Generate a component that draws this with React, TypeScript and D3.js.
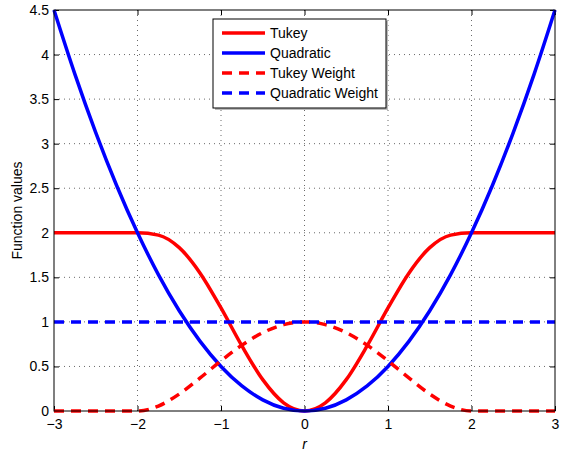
import React, { useEffect, useRef } from 'react'
import * as d3 from 'd3'

// r values, step 0.25 from -3 to 3
const rValues = [-3, -2.75, -2.5, -2.25, -2, -1.75, -1.5, -1.25, -1, -0.75, -0.5, -0.25, 0,
    0.25, 0.5, 0.75, 1, 1.25, 1.5, 1.75, 2, 2.25, 2.5, 2.75, 3]

const tukey = [2, 2, 2, 2, 2, 1.974, 1.833, 1.547, 1.156, 0.731, 0.352, 0.092, 0,
    0.092, 0.352, 0.731, 1.156, 1.547, 1.833, 1.974, 2, 2, 2, 2, 2]

const quadratic = [4.5, 3.781, 3.125, 2.531, 2, 1.531, 1.125, 0.781, 0.5, 0.281, 0.125, 0.031, 0,
    0.031, 0.125, 0.281, 0.5, 0.781, 1.125, 1.531, 2, 2.531, 3.125, 3.781, 4.5]

const tukeyWeight = [0, 0, 0, 0, 0, 0.055, 0.191, 0.371, 0.563, 0.739, 0.879, 0.969, 1,
    0.969, 0.879, 0.739, 0.563, 0.371, 0.191, 0.055, 0, 0, 0, 0, 0]

const quadraticWeight = [1, 1, 1, 1, 1, 1, 1, 1, 1, 1, 1, 1, 1,
    1, 1, 1, 1, 1, 1, 1, 1, 1, 1, 1, 1]

const xTicks = [-3, -2, -1, 0, 1, 2, 3]
const yTicks = [0, 0.5, 1, 1.5, 2, 2.5, 3, 3.5, 4, 4.5]

const series = [
    { name: 'Tukey', values: tukey, color: '#ff0000', dash: null },
    { name: 'Quadratic', values: quadratic, color: '#0000ff', dash: null },
    { name: 'Tukey Weight', values: tukeyWeight, color: '#ff0000', dash: '10,7' },
    { name: 'Quadratic Weight', values: quadraticWeight, color: '#0000ff', dash: '10,7' },
]

export default function App() {
    const ref = useRef<SVGSVGElement>(null)

    useEffect(() => {
        const svg = d3.select(ref.current)
        svg.selectAll('*').remove()

        const margin = { top: 10, left: 54, right: 9, bottom: 41 }
        const width = 564
        const height = 452
        const plotW = width - margin.left - margin.right
        const plotH = height - margin.top - margin.bottom
        const font = 'Liberation Sans, Arial, Helvetica, sans-serif'

        const x = d3.scaleLinear().domain([-3, 3]).range([0, plotW])
        const y = d3.scaleLinear().domain([0, 4.5]).range([plotH, 0])

        const g = svg.append('g').attr('transform', `translate(${margin.left},${margin.top})`)

        g.append('rect').attr('width', plotW).attr('height', plotH).attr('fill', 'white')

        // dotted grid
        g.selectAll('.vgrid').data(xTicks.slice(1, -1)).enter().append('line')
            .attr('x1', d => x(d)).attr('x2', d => x(d))
            .attr('y1', 0).attr('y2', plotH)
            .attr('stroke', '#444').attr('stroke-width', 0.8).attr('stroke-dasharray', '1,4')
        g.selectAll('.hgrid').data(yTicks.slice(1, -1)).enter().append('line')
            .attr('y1', d => y(d)).attr('y2', d => y(d))
            .attr('x1', 0).attr('x2', plotW)
            .attr('stroke', '#444').attr('stroke-width', 0.8).attr('stroke-dasharray', '1,4')

        // axes with inward ticks
        const tickLen = 5
        const xb = g.append('g').attr('transform', `translate(0,${plotH})`)
            .call(d3.axisBottom(x).tickValues(xTicks).tickSizeInner(-tickLen).tickSizeOuter(0)
                .tickFormat(d => (+d < 0 ? '\u2212' + Math.abs(+d) : String(d))))
        const xt = g.append('g')
            .call(d3.axisTop(x).tickValues(xTicks).tickSizeInner(-tickLen).tickSizeOuter(0).tickFormat(() => ''))
        const yl = g.append('g')
            .call(d3.axisLeft(y).tickValues(yTicks).tickSizeInner(-tickLen).tickSizeOuter(0)
                .tickFormat(d => String(d)))
        const yr = g.append('g').attr('transform', `translate(${plotW},0)`)
            .call(d3.axisRight(y).tickValues(yTicks).tickSizeInner(-tickLen).tickSizeOuter(0).tickFormat(() => ''))

        for (const a of [xb, xt, yl, yr]) {
            a.select('.domain').remove()
            a.selectAll('line').attr('stroke', 'black')
            a.selectAll('text').attr('font-family', font).attr('font-size', 14).attr('fill', 'black')
        }
        xb.selectAll('text').attr('dy', '1.1em')
        yl.selectAll('text').attr('x', -5)

        const lineGen = d3.line<number>()
            .x((d, i) => x(rValues[i]))
            .y(d => y(d))
            .curve(d3.curveMonotoneX)

        series.forEach(s => {
            g.append('path')
                .datum(s.values)
                .attr('fill', 'none')
                .attr('stroke', s.color)
                .attr('stroke-width', 3.5)
                .attr('stroke-dasharray', s.dash)
                .attr('d', lineGen)
        })

        // frame
        g.append('rect').attr('width', plotW).attr('height', plotH)
            .attr('fill', 'none').attr('stroke', 'black').attr('stroke-width', 1)

        // legend
        const lx = 213 - margin.left
        const ly = 19 - margin.top
        const lw = 173
        const lh = 89
        g.append('rect').attr('x', lx + 2).attr('y', ly + 2).attr('width', lw).attr('height', lh)
            .attr('fill', '#bbb')
        g.append('rect').attr('x', lx).attr('y', ly).attr('width', lw).attr('height', lh)
            .attr('fill', 'white').attr('stroke', 'black').attr('stroke-width', 1)
        series.forEach((s, i) => {
            const yy = ly + 14 + i * 20
            g.append('line')
                .attr('x1', lx + 9).attr('x2', lx + 52)
                .attr('y1', yy).attr('y2', yy)
                .attr('stroke', s.color).attr('stroke-width', 3.5)
                .attr('stroke-dasharray', s.dash)
            g.append('text')
                .attr('x', lx + 57).attr('y', yy)
                .attr('dy', '0.35em')
                .attr('font-family', font).attr('font-size', 14)
                .text(s.name)
        })

        // axis labels
        svg.append('text')
            .attr('x', margin.left + plotW / 2).attr('y', 449)
            .attr('text-anchor', 'middle')
            .attr('font-family', font).attr('font-size', 14).attr('font-style', 'italic')
            .text('r')
        svg.append('text')
            .attr('transform', `translate(22,${margin.top + plotH / 2}) rotate(-90)`)
            .attr('text-anchor', 'middle')
            .attr('font-family', font).attr('font-size', 14)
            .text('Function values')
    }, [])

    return <svg ref={ref} width={564} height={452} style={{ position: 'absolute', left: 0, top: 0, background: 'white' }} />
}
